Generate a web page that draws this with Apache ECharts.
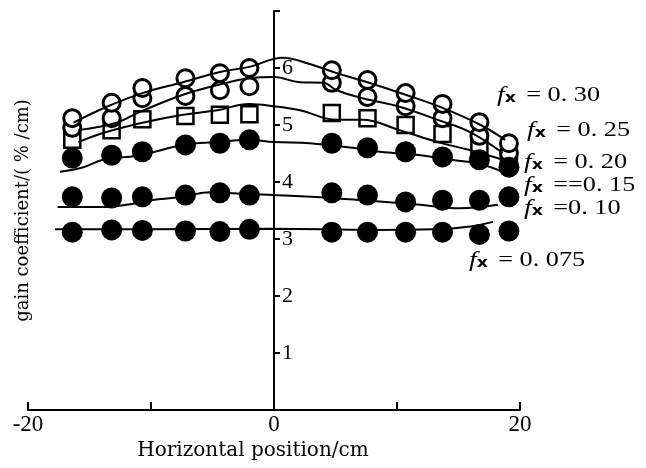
<!DOCTYPE html>
<html>
<head>
<meta charset="utf-8">
<script src="https://cdn.jsdelivr.net/npm/echarts@6/dist/echarts.min.js"></script>
<style>
    html, body {margin: 0; background: #fff;}
    #chart {width: 646px; height: 468px;}
</style>
</head>
<body>
<div id="chart"></div>
<script>
// measured positions (cm) of the marker columns
const xPos = [-16.4, -13.2, -10.7, -7.2, -4.4, -2.0, 4.7, 7.6, 10.7, 13.7, 16.7, 19.1];

// measured gain coefficients (%/cm)
const g030 = [5.12, 5.39, 5.65, 5.82, 5.91, 6.00, 5.96, 5.79, 5.56, 5.37, 5.05, 4.68];
const g025 = [4.95, 5.12, 5.47, 5.51, 5.61, 5.68, 5.74, 5.49, 5.33, 5.12, 4.81, 4.51];
const g020 = [4.74, 4.91, 5.10, 5.16, 5.18, 5.19, 5.21, 5.12, 5.00, 4.84, 4.61, 4.39];
const g015 = [4.42, 4.47, 4.53, 4.65, 4.68, 4.74, 4.68, 4.60, 4.53, 4.44, 4.39, 4.26];
const g010 = [3.74, 3.72, 3.74, 3.77, 3.81, 3.77, 3.81, 3.77, 3.65, 3.68, 3.68, 3.74];
const g0075 = [3.12, 3.16, 3.15, 3.14, 3.13, 3.17, 3.12, 3.12, 3.12, 3.12, 3.08, 3.14];

// fitted curves
const fit030 = [[-16.3, 5.04], [-13.6, 5.32], [-10.7, 5.56], [-7.4, 5.75], [-4.4, 5.93], [-2.0, 6.02],
    [0.7, 6.18], [2.9, 6.07], [5.1, 5.91], [7.6, 5.75], [10.7, 5.53], [13.7, 5.30], [16.8, 5.00], [18.8, 4.74]];
const fit025 = [[-15.9, 4.91], [-12.8, 5.04], [-10.9, 5.23], [-7.4, 5.53], [-4.6, 5.70], [-2.0, 5.82],
    [0, 5.84], [2.1, 5.75], [4.0, 5.74], [5.1, 5.61], [7.2, 5.47], [10.2, 5.32], [13.3, 5.09], [15.9, 4.88], [18.6, 4.51]];
const fit020 = [[-15.9, 4.70], [-13.9, 4.86], [-10.7, 5.04], [-7.4, 5.18], [-4.6, 5.26], [-2.0, 5.37],
    [0, 5.33], [2.1, 5.26], [5.1, 5.09], [7.2, 5.09], [10.2, 4.91], [13.3, 4.70], [15.9, 4.56], [18.6, 4.39]];
const fit015 = [[-17.4, 4.18], [-15.5, 4.26], [-13.9, 4.39], [-10.9, 4.47], [-7.4, 4.65], [-4.6, 4.70],
    [-2.0, 4.74], [0, 4.70], [2.9, 4.68], [6.4, 4.60], [8.6, 4.53], [11.9, 4.47], [14.3, 4.39], [16.5, 4.33], [18.6, 4.18]];
const fit010 = [[-17.6, 3.56], [-14.1, 3.56], [-12.0, 3.60], [-10.0, 3.68], [-7.4, 3.74], [-5.2, 3.82],
    [-3.0, 3.80], [0, 3.77], [4.5, 3.72], [7.8, 3.67], [11.9, 3.60], [15.1, 3.54], [18.2, 3.60]];
const fit0075 = [[-17.8, 3.17], [-10.0, 3.17], [0, 3.18], [8.0, 3.16], [13.0, 3.17], [16.0, 3.22], [17.8, 3.30]];

const curveLabels = ['= 0. 30', '= 0. 25', '= 0. 20', '==0. 15', '=0. 10', '= 0. 075'];
const xTickLabels = [-20, 0, 20];

const serif = 'Liberation Serif';

const pairs = (vals) => vals.map((v, i) => [xPos[i], v]);

const openCircle = (data) => ({
    type: 'scatter', data: pairs(data), symbol: 'circle', symbolSize: 17, z: 2,
    itemStyle: {color: '#fff', borderColor: '#000', borderWidth: 3, opacity: 1},
});
const openSquare = (data) => ({
    type: 'scatter', data: pairs(data), symbol: 'rect', symbolSize: 16, z: 2,
    itemStyle: {color: '#fff', borderColor: '#000', borderWidth: 2.5, opacity: 1},
});
const dot = (data) => ({
    type: 'scatter', data: pairs(data), symbol: 'circle', symbolSize: 21, z: 2,
    itemStyle: {color: '#000', opacity: 1},
});
const curve = (data) => ({
    type: 'line', data: data, smooth: 0.4, showSymbol: false, z: 3,
    lineStyle: {color: '#000', width: 2},
});

const labelPos = [[497, 95], [527, 130], [524, 162], [524, 185], [524, 208], [469, 260]];

const chart = echarts.init(document.getElementById('chart'));
chart.setOption({
    animation: false,
    backgroundColor: '#fff',
    grid: {left: 28, right: 126, top: 11, bottom: 58, containLabel: false, outerBoundsMode: 'none'},
    xAxis: {
        type: 'value', min: -20, max: 20, interval: 10,
        name: 'Horizontal position/cm', nameLocation: 'middle', nameGap: 28,
        nameTextStyle: {color: '#000', fontSize: 20, fontFamily: 'DejaVu Serif', padding: [0, 42, 0, 0]},
        axisLine: {lineStyle: {color: '#000', width: 2}},
        axisTick: {inside: true, length: 8, lineStyle: {color: '#000', width: 2}},
        axisLabel: {
            color: '#000', fontSize: 23, fontFamily: serif, margin: 3,
            formatter: (v) => xTickLabels.includes(v) ? String(v) : '',
        },
        splitLine: {show: false},
    },
    yAxis: {
        type: 'value', min: 0, max: 7, interval: 1, offset: -246,
        name: 'gain coefficient/( % /cm)', nameLocation: 'middle', nameRotate: 90, nameGap: 242,
        nameTextStyle: {color: '#000', fontSize: 18, fontFamily: 'DejaVu Serif'},
        axisLine: {onZero: false, lineStyle: {color: '#000', width: 2}},
        axisTick: {inside: true, length: 6, lineStyle: {color: '#000', width: 2}},
        axisLabel: {
            inside: true, color: '#000', fontSize: 22, fontFamily: serif, margin: 8,
            formatter: (v) => (v > 0 && v < 7) ? String(v) : '',
        },
        splitLine: {show: false},
    },
    graphic: curveLabels.map((t, i) => ({
        type: 'text', x: labelPos[i][0], y: labelPos[i][1], scaleX: 1.25,
        style: {
            text: '{f|f}{s|x} ' + t,
            verticalAlign: 'middle',
            fill: '#000',
            font: '21px "Liberation Serif"',
            rich: {
                f: {fontSize: 22, fontStyle: 'italic', fontFamily: serif, fill: '#000'},
                s: {fontSize: 14, fontWeight: 'bold', fontFamily: 'DejaVu Sans', fill: '#000', padding: [6, 3, 0, 0]},
            },
        },
    })),
    series: [
        curve(fit030), curve(fit025), curve(fit020), curve(fit015), curve(fit010), curve(fit0075),
        openSquare(g020), openCircle(g025), openCircle(g030),
        dot(g015), dot(g010), dot(g0075),
    ],
});
</script>
</body>
</html>
